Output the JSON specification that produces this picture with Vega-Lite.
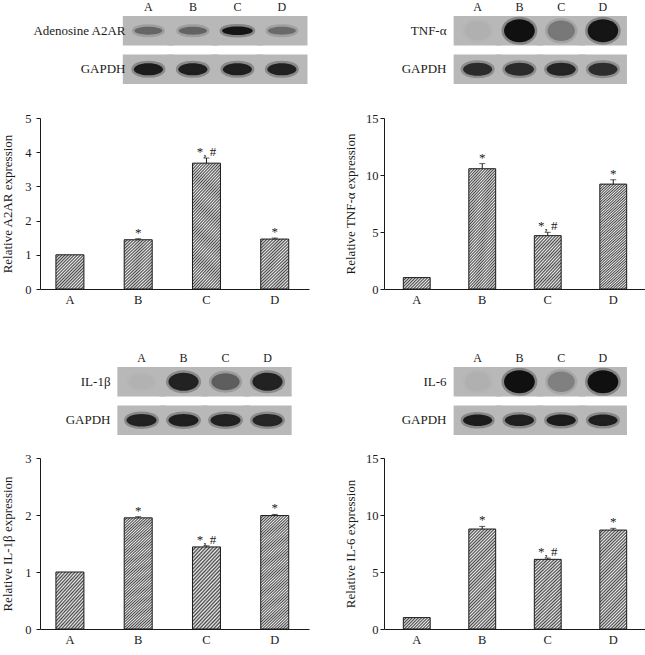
{
  "$schema": "https://vega.github.io/schema/vega-lite/v6.json",
  "padding": {"left": 1, "top": 0, "right": 0, "bottom": 0},
  "autosize": {"type": "pad"},
  "columns": 2,
  "bounds": "flush",
  "align": "each",
  "spacing": {"row": 23, "column": 75},
  "datasets": {
    "blotTL": [
      {"lane": "A", "row": "Adenosine A2AR", "intensity": 0.45},
      {"lane": "B", "row": "Adenosine A2AR", "intensity": 0.47},
      {"lane": "C", "row": "Adenosine A2AR", "intensity": 0.97},
      {"lane": "D", "row": "Adenosine A2AR", "intensity": 0.43},
      {"lane": "A", "row": "GAPDH", "intensity": 0.92},
      {"lane": "B", "row": "GAPDH", "intensity": 0.9},
      {"lane": "C", "row": "GAPDH", "intensity": 0.9},
      {"lane": "D", "row": "GAPDH", "intensity": 0.88}
    ],
    "blotTR": [
      {"lane": "A", "row": "TNF-α", "intensity": 0.04},
      {"lane": "B", "row": "TNF-α", "intensity": 1.0},
      {"lane": "C", "row": "TNF-α", "intensity": 0.35},
      {"lane": "D", "row": "TNF-α", "intensity": 0.97},
      {"lane": "A", "row": "GAPDH", "intensity": 0.82},
      {"lane": "B", "row": "GAPDH", "intensity": 0.82},
      {"lane": "C", "row": "GAPDH", "intensity": 0.86},
      {"lane": "D", "row": "GAPDH", "intensity": 0.8}
    ],
    "blotBL": [
      {"lane": "A", "row": "IL-1β", "intensity": 0.03},
      {"lane": "B", "row": "IL-1β", "intensity": 0.88},
      {"lane": "C", "row": "IL-1β", "intensity": 0.5},
      {"lane": "D", "row": "IL-1β", "intensity": 0.88},
      {"lane": "A", "row": "GAPDH", "intensity": 0.88},
      {"lane": "B", "row": "GAPDH", "intensity": 0.9},
      {"lane": "C", "row": "GAPDH", "intensity": 0.88},
      {"lane": "D", "row": "GAPDH", "intensity": 0.85}
    ],
    "blotBR": [
      {"lane": "A", "row": "IL-6", "intensity": 0.04},
      {"lane": "B", "row": "IL-6", "intensity": 1.0},
      {"lane": "C", "row": "IL-6", "intensity": 0.3},
      {"lane": "D", "row": "IL-6", "intensity": 1.0},
      {"lane": "A", "row": "GAPDH", "intensity": 0.92},
      {"lane": "B", "row": "GAPDH", "intensity": 0.9},
      {"lane": "C", "row": "GAPDH", "intensity": 0.92},
      {"lane": "D", "row": "GAPDH", "intensity": 0.9}
    ],
    "barsTL": [
      {"lane": "A", "value": 1.0, "upper": 1.0, "sig": ""},
      {"lane": "B", "value": 1.44, "upper": 1.47, "sig": "*"},
      {"lane": "C", "value": 3.68, "upper": 3.83, "sig": "*, #"},
      {"lane": "D", "value": 1.46, "upper": 1.49, "sig": "*"}
    ],
    "barsTR": [
      {"lane": "A", "value": 1.0, "upper": 1.0, "sig": ""},
      {"lane": "B", "value": 10.55, "upper": 11.0, "sig": "*"},
      {"lane": "C", "value": 4.68, "upper": 4.97, "sig": "*, #"},
      {"lane": "D", "value": 9.2, "upper": 9.58, "sig": "*"}
    ],
    "barsBL": [
      {"lane": "A", "value": 1.0, "upper": 1.0, "sig": ""},
      {"lane": "B", "value": 1.95, "upper": 1.97, "sig": "*"},
      {"lane": "C", "value": 1.44, "upper": 1.46, "sig": "*, #"},
      {"lane": "D", "value": 1.99, "upper": 2.01, "sig": "*"}
    ],
    "barsBR": [
      {"lane": "A", "value": 1.0, "upper": 1.0, "sig": ""},
      {"lane": "B", "value": 8.77, "upper": 9.0, "sig": "*"},
      {"lane": "C", "value": 6.11, "upper": 6.22, "sig": "*, #"},
      {"lane": "D", "value": 8.68, "upper": 8.83, "sig": "*"}
    ]
  },
  "concat": [
    {
      "width": 267, "height": 79,
      "data": {"name": "blotTL"},
      "encoding": {
        "x": {"field": "lane", "type": "nominal", "scale": {"paddingInner": 0, "paddingOuter": 1.184, "align": 0.968},
              "axis": {"orient": "top", "domain": false, "ticks": false, "labelPadding": 3, "labelAngle": 0, "title": null, "labelFontSize": 12}},
        "y": {"field": "row", "type": "nominal", "sort": null, "scale": {"paddingInner": 0.235, "paddingOuter": 0.143, "align": 0},
              "axis": {"domain": false, "ticks": false, "labelPadding": 8, "offset": -93, "title": null, "labelFontSize": 13}}
      },
      "layer": [
        {"mark": {"type": "rect", "color": "#b8b8b8", "width": {"band": 1.15}}},
        {"transform": [{"filter": "datum.row != 'GAPDH'"}],
         "mark": {"type": "point", "filled": true, "shape": "M-1,0A1,0.28,0,1,0,1,0A1,0.28,0,1,0,-1,0Z", "strokeWidth": 5, "strokeOpacity": 0.3, "opacity": 1},
         "encoding": {
           "color": {"field": "intensity", "type": "quantitative", "scale": {"domain": [0, 1], "range": ["#b8b8b8", "#101010"]}, "legend": null},
           "stroke": {"field": "intensity", "type": "quantitative", "scale": {"domain": [0, 1], "range": ["#b8b8b8", "#101010"]}, "legend": null},
           "size": {"field": "intensity", "type": "quantitative", "scale": {"domain": [0, 1], "range": [650, 950]}, "legend": null}}},
        {"transform": [{"filter": "datum.row == 'GAPDH'"}],
         "mark": {"type": "point", "filled": true, "shape": "M-1,0A1,0.42,0,1,0,1,0A1,0.42,0,1,0,-1,0Z", "size": 850, "strokeWidth": 5, "strokeOpacity": 0.3, "opacity": 1},
         "encoding": {
           "color": {"field": "intensity", "type": "quantitative", "legend": null},
           "stroke": {"field": "intensity", "type": "quantitative", "legend": null}}}
      ]
    },
    {
      "width": 243, "height": 79,
      "data": {"name": "blotTR"},
      "encoding": {
        "x": {"field": "lane", "type": "nominal", "scale": {"paddingInner": 0, "paddingOuter": 0.9095, "align": 0.958},
              "axis": {"orient": "top", "domain": false, "ticks": false, "labelPadding": 3, "labelAngle": 0, "title": null, "labelFontSize": 12}},
        "y": {"field": "row", "type": "nominal", "sort": null, "scale": {"paddingInner": 0.235, "paddingOuter": 0.143, "align": 0},
              "axis": {"domain": false, "ticks": false, "labelPadding": 8, "offset": -70, "title": null, "labelFontSize": 13}}
      },
      "layer": [
        {"mark": {"type": "rect", "color": "#b8b8b8", "width": {"band": 1.15}}},
        {"transform": [{"filter": "datum.row != 'GAPDH'"}],
         "mark": {"type": "point", "filled": true, "shape": "M-1,0A1,0.75,0,1,0,1,0A1,0.75,0,1,0,-1,0Z", "strokeWidth": 5, "strokeOpacity": 0.3, "opacity": 1},
         "encoding": {
           "color": {"field": "intensity", "type": "quantitative", "scale": {"domain": [0, 1], "range": ["#b8b8b8", "#101010"]}, "legend": null},
           "stroke": {"field": "intensity", "type": "quantitative", "scale": {"domain": [0, 1], "range": ["#b8b8b8", "#101010"]}, "legend": null},
           "size": {"field": "intensity", "type": "quantitative", "scale": {"domain": [0, 1], "range": [500, 680]}, "legend": null}}},
        {"transform": [{"filter": "datum.row == 'GAPDH'"}],
         "mark": {"type": "point", "filled": true, "shape": "M-1,0A1,0.45,0,1,0,1,0A1,0.45,0,1,0,-1,0Z", "size": 850, "strokeWidth": 5, "strokeOpacity": 0.3, "opacity": 1},
         "encoding": {
           "color": {"field": "intensity", "type": "quantitative", "legend": null},
           "stroke": {"field": "intensity", "type": "quantitative", "legend": null}}}
      ]
    },
    {
      "width": 269, "height": 171,
      "data": {"name": "barsTL"},
      "encoding": {
        "x": {"field": "lane", "type": "nominal", "scale": {"paddingInner": 0.59, "paddingOuter": 0.265, "align": 0.44},
              "axis": {"title": null, "labelAngle": 0, "ticks": false, "labelPadding": 4}},
        "y": {"field": "value", "type": "quantitative", "scale": {"domain": [0, 5], "nice": false},
              "axis": {"values": [0, 1, 2, 3, 4, 5], "format": "d", "title": "Relative A2AR expression", "tickSize": 4, "labelPadding": 5, "titlePadding": 10}}
      },
      "layer": [
        {"transform": [{"filter": {"field": "lane", "equal": "A"}}],
         "mark": {"type": "bar", "style": "h2", "stroke": "#1a1a1a", "strokeWidth": 1}},
        {"transform": [{"filter": {"field": "lane", "oneOf": ["B", "D"]}}],
         "mark": {"type": "bar", "style": "h3", "stroke": "#1a1a1a", "strokeWidth": 1}},
        {"transform": [{"filter": {"field": "lane", "equal": "C"}}],
         "mark": {"type": "bar", "style": "h6", "stroke": "#1a1a1a", "strokeWidth": 1}},
        {"transform": [{"filter": "datum.upper > datum.value"}],
         "mark": {"type": "rule", "color": "#1a1a1a", "strokeWidth": 1},
         "encoding": {"y2": {"field": "upper"}}},
        {"transform": [{"filter": "datum.upper > datum.value"}],
         "mark": {"type": "tick", "color": "#1a1a1a", "size": 6, "thickness": 1},
         "encoding": {"y": {"field": "upper", "type": "quantitative", "title": "Relative A2AR expression"}}},
        {"mark": {"type": "text", "baseline": "alphabetic", "dy": -2, "fontSize": 13, "color": "#1a1a1a"},
         "encoding": {"y": {"field": "upper", "type": "quantitative", "title": "Relative A2AR expression"}, "text": {"field": "sig"}}}
      ]
    },
    {
      "width": 262, "height": 171,
      "data": {"name": "barsTR"},
      "encoding": {
        "x": {"field": "lane", "type": "nominal", "scale": {"paddingInner": 0.59, "paddingOuter": 0.295, "align": 0.5},
              "axis": {"title": null, "labelAngle": 0, "ticks": false, "labelPadding": 4}},
        "y": {"field": "value", "type": "quantitative", "scale": {"domain": [0, 15], "nice": false},
              "axis": {"values": [0, 5, 10, 15], "format": "d", "title": "Relative TNF-α expression", "tickSize": 4, "labelPadding": 2, "titlePadding": 8}}
      },
      "layer": [
        {"transform": [{"filter": {"field": "lane", "equal": "A"}}],
         "mark": {"type": "bar", "style": "h1", "stroke": "#1a1a1a", "strokeWidth": 1}},
        {"transform": [{"filter": {"field": "lane", "oneOf": ["B", "D"]}}],
         "mark": {"type": "bar", "style": "h6", "stroke": "#1a1a1a", "strokeWidth": 1}},
        {"transform": [{"filter": {"field": "lane", "equal": "C"}}],
         "mark": {"type": "bar", "style": "h3", "stroke": "#1a1a1a", "strokeWidth": 1}},
        {"transform": [{"filter": "datum.upper > datum.value"}],
         "mark": {"type": "rule", "color": "#1a1a1a", "strokeWidth": 1},
         "encoding": {"y2": {"field": "upper"}}},
        {"transform": [{"filter": "datum.upper > datum.value"}],
         "mark": {"type": "tick", "color": "#1a1a1a", "size": 6, "thickness": 1},
         "encoding": {"y": {"field": "upper", "type": "quantitative", "title": "Relative TNF-α expression"}}},
        {"mark": {"type": "text", "baseline": "alphabetic", "dy": -2, "fontSize": 13, "color": "#1a1a1a"},
         "encoding": {"y": {"field": "upper", "type": "quantitative", "title": "Relative TNF-α expression"}, "text": {"field": "sig"}}}
      ]
    },
    {
      "width": 252, "height": 123,
      "data": {"name": "blotBL"},
      "encoding": {
        "x": {"field": "lane", "type": "nominal", "scale": {"paddingInner": 0, "paddingOuter": 1.0104, "align": 0.9586},
              "axis": {"orient": "top", "domain": false, "ticks": false, "labelPadding": 3, "offset": -55, "labelAngle": 0, "title": null, "labelFontSize": 12}},
        "y": {"field": "row", "type": "nominal", "sort": null, "scale": {"paddingInner": 0.235, "paddingOuter": 0.714, "align": 1},
              "axis": {"domain": false, "ticks": false, "labelPadding": 8, "offset": -78, "title": null, "labelFontSize": 13}}
      },
      "layer": [
        {"mark": {"type": "rect", "color": "#b8b8b8", "width": {"band": 1.15}}},
        {"transform": [{"filter": "datum.row != 'GAPDH'"}],
         "mark": {"type": "point", "filled": true, "shape": "M-1,0A1,0.6,0,1,0,1,0A1,0.6,0,1,0,-1,0Z", "strokeWidth": 5, "strokeOpacity": 0.3, "opacity": 1},
         "encoding": {
           "color": {"field": "intensity", "type": "quantitative", "scale": {"domain": [0, 1], "range": ["#b8b8b8", "#101010"]}, "legend": null},
           "stroke": {"field": "intensity", "type": "quantitative", "scale": {"domain": [0, 1], "range": ["#b8b8b8", "#101010"]}, "legend": null},
           "size": {"field": "intensity", "type": "quantitative", "scale": {"domain": [0, 1], "range": [550, 720]}, "legend": null}}},
        {"transform": [{"filter": "datum.row == 'GAPDH'"}],
         "mark": {"type": "point", "filled": true, "shape": "M-1,0A1,0.42,0,1,0,1,0A1,0.42,0,1,0,-1,0Z", "size": 900, "strokeWidth": 5, "strokeOpacity": 0.3, "opacity": 1},
         "encoding": {
           "color": {"field": "intensity", "type": "quantitative", "legend": null},
           "stroke": {"field": "intensity", "type": "quantitative", "legend": null}}}
      ]
    },
    {
      "width": 243, "height": 123,
      "data": {"name": "blotBR"},
      "encoding": {
        "x": {"field": "lane", "type": "nominal", "scale": {"paddingInner": 0, "paddingOuter": 0.9095, "align": 0.958},
              "axis": {"orient": "top", "domain": false, "ticks": false, "labelPadding": 3, "offset": -55, "labelAngle": 0, "title": null, "labelFontSize": 12}},
        "y": {"field": "row", "type": "nominal", "sort": null, "scale": {"paddingInner": 0.235, "paddingOuter": 0.714, "align": 1},
              "axis": {"domain": false, "ticks": false, "labelPadding": 8, "offset": -70, "title": null, "labelFontSize": 13}}
      },
      "layer": [
        {"mark": {"type": "rect", "color": "#b8b8b8", "width": {"band": 1.15}}},
        {"transform": [{"filter": "datum.row != 'GAPDH'"}],
         "mark": {"type": "point", "filled": true, "shape": "M-1,0A1,0.75,0,1,0,1,0A1,0.75,0,1,0,-1,0Z", "strokeWidth": 5, "strokeOpacity": 0.3, "opacity": 1},
         "encoding": {
           "color": {"field": "intensity", "type": "quantitative", "scale": {"domain": [0, 1], "range": ["#b8b8b8", "#101010"]}, "legend": null},
           "stroke": {"field": "intensity", "type": "quantitative", "scale": {"domain": [0, 1], "range": ["#b8b8b8", "#101010"]}, "legend": null},
           "size": {"field": "intensity", "type": "quantitative", "scale": {"domain": [0, 1], "range": [500, 660]}, "legend": null}}},
        {"transform": [{"filter": "datum.row == 'GAPDH'"}],
         "mark": {"type": "point", "filled": true, "shape": "M-1,0A1,0.4,0,1,0,1,0A1,0.4,0,1,0,-1,0Z", "size": 850, "strokeWidth": 5, "strokeOpacity": 0.3, "opacity": 1},
         "encoding": {
           "color": {"field": "intensity", "type": "quantitative", "legend": null},
           "stroke": {"field": "intensity", "type": "quantitative", "legend": null}}}
      ]
    },
    {
      "width": 269, "height": 171,
      "data": {"name": "barsBL"},
      "encoding": {
        "x": {"field": "lane", "type": "nominal", "scale": {"paddingInner": 0.59, "paddingOuter": 0.265, "align": 0.44},
              "axis": {"title": null, "labelAngle": 0, "ticks": false, "labelPadding": 4}},
        "y": {"field": "value", "type": "quantitative", "scale": {"domain": [0, 3], "nice": false},
              "axis": {"values": [0, 1, 2, 3], "format": "d", "title": "Relative IL-1β expression", "tickSize": 4, "labelPadding": 5, "titlePadding": 10}}
      },
      "layer": [
        {"transform": [{"filter": {"field": "lane", "equal": "A"}}],
         "mark": {"type": "bar", "style": "h3", "stroke": "#1a1a1a", "strokeWidth": 1}},
        {"transform": [{"filter": {"field": "lane", "oneOf": ["B", "D"]}}],
         "mark": {"type": "bar", "style": "h6", "stroke": "#1a1a1a", "strokeWidth": 1}},
        {"transform": [{"filter": {"field": "lane", "equal": "C"}}],
         "mark": {"type": "bar", "style": "h4", "stroke": "#1a1a1a", "strokeWidth": 1}},
        {"transform": [{"filter": "datum.upper > datum.value"}],
         "mark": {"type": "rule", "color": "#1a1a1a", "strokeWidth": 1},
         "encoding": {"y2": {"field": "upper"}}},
        {"transform": [{"filter": "datum.upper > datum.value"}],
         "mark": {"type": "tick", "color": "#1a1a1a", "size": 6, "thickness": 1},
         "encoding": {"y": {"field": "upper", "type": "quantitative", "title": "Relative IL-1β expression"}}},
        {"mark": {"type": "text", "baseline": "alphabetic", "dy": -2, "fontSize": 13, "color": "#1a1a1a"},
         "encoding": {"y": {"field": "upper", "type": "quantitative", "title": "Relative IL-1β expression"}, "text": {"field": "sig"}}}
      ]
    },
    {
      "width": 262, "height": 171,
      "data": {"name": "barsBR"},
      "encoding": {
        "x": {"field": "lane", "type": "nominal", "scale": {"paddingInner": 0.59, "paddingOuter": 0.295, "align": 0.5},
              "axis": {"title": null, "labelAngle": 0, "ticks": false, "labelPadding": 4}},
        "y": {"field": "value", "type": "quantitative", "scale": {"domain": [0, 15], "nice": false},
              "axis": {"values": [0, 5, 10, 15], "format": "d", "title": "Relative IL-6 expression", "tickSize": 4, "labelPadding": 2, "titlePadding": 8}}
      },
      "layer": [
        {"transform": [{"filter": {"field": "lane", "equal": "A"}}],
         "mark": {"type": "bar", "style": "h1", "stroke": "#1a1a1a", "strokeWidth": 1}},
        {"transform": [{"filter": {"field": "lane", "oneOf": ["B", "D"]}}],
         "mark": {"type": "bar", "style": "h5", "stroke": "#1a1a1a", "strokeWidth": 1}},
        {"transform": [{"filter": {"field": "lane", "equal": "C"}}],
         "mark": {"type": "bar", "style": "h4", "stroke": "#1a1a1a", "strokeWidth": 1}},
        {"transform": [{"filter": "datum.upper > datum.value"}],
         "mark": {"type": "rule", "color": "#1a1a1a", "strokeWidth": 1},
         "encoding": {"y2": {"field": "upper"}}},
        {"transform": [{"filter": "datum.upper > datum.value"}],
         "mark": {"type": "tick", "color": "#1a1a1a", "size": 6, "thickness": 1},
         "encoding": {"y": {"field": "upper", "type": "quantitative", "title": "Relative IL-6 expression"}}},
        {"mark": {"type": "text", "baseline": "alphabetic", "dy": -2, "fontSize": 13, "color": "#1a1a1a"},
         "encoding": {"y": {"field": "upper", "type": "quantitative", "title": "Relative IL-6 expression"}, "text": {"field": "sig"}}}
      ]
    }
  ],
  "config": {
    "font": "Liberation Serif",
    "view": {"stroke": null},
    "axis": {
      "labelFont": "Liberation Serif", "titleFont": "Liberation Serif",
      "labelColor": "#1a1a1a", "titleColor": "#1a1a1a", "titleFontWeight": "normal",
      "labelFontSize": 12.5, "titleFontSize": 13, "labelOverlap": false,
      "domainColor": "#1a1a1a", "tickColor": "#1a1a1a", "grid": false
    },
    "text": {"font": "Liberation Serif"},
    "style": {
      "h1": {"color": {"gradient": "linear", "x1": 0, "y1": 0, "x2": 1.207, "y2": 0.5096, "stops": [
        {"offset": 0, "color": "#444"}, {"offset": 0.04, "color": "#eee"}, {"offset": 0.08, "color": "#444"}, {"offset": 0.12, "color": "#eee"},
        {"offset": 0.16, "color": "#444"}, {"offset": 0.2, "color": "#eee"}, {"offset": 0.24, "color": "#444"}, {"offset": 0.28, "color": "#eee"},
        {"offset": 0.32, "color": "#444"}, {"offset": 0.36, "color": "#eee"}, {"offset": 0.4, "color": "#444"}, {"offset": 0.44, "color": "#eee"},
        {"offset": 0.48, "color": "#444"}, {"offset": 0.52, "color": "#eee"}, {"offset": 0.56, "color": "#444"}, {"offset": 0.6, "color": "#eee"},
        {"offset": 0.64, "color": "#444"}, {"offset": 0.68, "color": "#eee"}, {"offset": 0.72, "color": "#444"}, {"offset": 0.76, "color": "#eee"},
        {"offset": 0.8, "color": "#444"}, {"offset": 0.84, "color": "#eee"}, {"offset": 0.88, "color": "#444"}, {"offset": 0.92, "color": "#eee"},
        {"offset": 0.96, "color": "#444"}, {"offset": 1, "color": "#eee"}]}},
      "h2": {"color": {"gradient": "linear", "x1": 0, "y1": 0, "x2": 0.8948, "y2": 1.0866, "stops": [
        {"offset": 0, "color": "#444"}, {"offset": 0.025, "color": "#eee"}, {"offset": 0.05, "color": "#444"}, {"offset": 0.075, "color": "#eee"},
        {"offset": 0.1, "color": "#444"}, {"offset": 0.125, "color": "#eee"}, {"offset": 0.15, "color": "#444"}, {"offset": 0.175, "color": "#eee"},
        {"offset": 0.2, "color": "#444"}, {"offset": 0.225, "color": "#eee"}, {"offset": 0.25, "color": "#444"}, {"offset": 0.275, "color": "#eee"},
        {"offset": 0.3, "color": "#444"}, {"offset": 0.325, "color": "#eee"}, {"offset": 0.35, "color": "#444"}, {"offset": 0.375, "color": "#eee"},
        {"offset": 0.4, "color": "#444"}, {"offset": 0.425, "color": "#eee"}, {"offset": 0.45, "color": "#444"}, {"offset": 0.475, "color": "#eee"},
        {"offset": 0.5, "color": "#444"}, {"offset": 0.525, "color": "#eee"}, {"offset": 0.55, "color": "#444"}, {"offset": 0.575, "color": "#eee"},
        {"offset": 0.6, "color": "#444"}, {"offset": 0.625, "color": "#eee"}, {"offset": 0.65, "color": "#444"}, {"offset": 0.675, "color": "#eee"},
        {"offset": 0.7, "color": "#444"}, {"offset": 0.725, "color": "#eee"}, {"offset": 0.75, "color": "#444"}, {"offset": 0.775, "color": "#eee"},
        {"offset": 0.8, "color": "#444"}, {"offset": 0.825, "color": "#eee"}, {"offset": 0.85, "color": "#444"}, {"offset": 0.875, "color": "#eee"},
        {"offset": 0.9, "color": "#444"}, {"offset": 0.925, "color": "#eee"}, {"offset": 0.95, "color": "#444"}, {"offset": 0.975, "color": "#eee"},
        {"offset": 1, "color": "#444"}]}},
      "h3": {"color": {"gradient": "linear", "x1": 0, "y1": 0, "x2": 0.6422, "y2": 1.1927, "stops": [
        {"offset": 0, "color": "#444"}, {"offset": 0.02, "color": "#eee"}, {"offset": 0.04, "color": "#444"}, {"offset": 0.06, "color": "#eee"},
        {"offset": 0.08, "color": "#444"}, {"offset": 0.1, "color": "#eee"}, {"offset": 0.12, "color": "#444"}, {"offset": 0.14, "color": "#eee"},
        {"offset": 0.16, "color": "#444"}, {"offset": 0.18, "color": "#eee"}, {"offset": 0.2, "color": "#444"}, {"offset": 0.22, "color": "#eee"},
        {"offset": 0.24, "color": "#444"}, {"offset": 0.26, "color": "#eee"}, {"offset": 0.28, "color": "#444"}, {"offset": 0.3, "color": "#eee"},
        {"offset": 0.32, "color": "#444"}, {"offset": 0.34, "color": "#eee"}, {"offset": 0.36, "color": "#444"}, {"offset": 0.38, "color": "#eee"},
        {"offset": 0.4, "color": "#444"}, {"offset": 0.42, "color": "#eee"}, {"offset": 0.44, "color": "#444"}, {"offset": 0.46, "color": "#eee"},
        {"offset": 0.48, "color": "#444"}, {"offset": 0.5, "color": "#eee"}, {"offset": 0.52, "color": "#444"}, {"offset": 0.54, "color": "#eee"},
        {"offset": 0.56, "color": "#444"}, {"offset": 0.58, "color": "#eee"}, {"offset": 0.6, "color": "#444"}, {"offset": 0.62, "color": "#eee"},
        {"offset": 0.64, "color": "#444"}, {"offset": 0.66, "color": "#eee"}, {"offset": 0.68, "color": "#444"}, {"offset": 0.7, "color": "#eee"},
        {"offset": 0.72, "color": "#444"}, {"offset": 0.74, "color": "#eee"}, {"offset": 0.76, "color": "#444"}, {"offset": 0.78, "color": "#eee"},
        {"offset": 0.8, "color": "#444"}, {"offset": 0.82, "color": "#eee"}, {"offset": 0.84, "color": "#444"}, {"offset": 0.86, "color": "#eee"},
        {"offset": 0.88, "color": "#444"}, {"offset": 0.9, "color": "#eee"}, {"offset": 0.92, "color": "#444"}, {"offset": 0.94, "color": "#eee"},
        {"offset": 0.96, "color": "#444"}, {"offset": 0.98, "color": "#eee"}, {"offset": 1, "color": "#444"}]}},
      "h4": {"color": {"gradient": "linear", "x1": 0, "y1": 0, "x2": 0.4357, "y2": 1.2042, "stops": [
        {"offset": 0, "color": "#444"}, {"offset": 0.0167, "color": "#eee"}, {"offset": 0.0333, "color": "#444"}, {"offset": 0.05, "color": "#eee"},
        {"offset": 0.0667, "color": "#444"}, {"offset": 0.0833, "color": "#eee"}, {"offset": 0.1, "color": "#444"}, {"offset": 0.1167, "color": "#eee"},
        {"offset": 0.1333, "color": "#444"}, {"offset": 0.15, "color": "#eee"}, {"offset": 0.1667, "color": "#444"}, {"offset": 0.1833, "color": "#eee"},
        {"offset": 0.2, "color": "#444"}, {"offset": 0.2167, "color": "#eee"}, {"offset": 0.2333, "color": "#444"}, {"offset": 0.25, "color": "#eee"},
        {"offset": 0.2667, "color": "#444"}, {"offset": 0.2833, "color": "#eee"}, {"offset": 0.3, "color": "#444"}, {"offset": 0.3167, "color": "#eee"},
        {"offset": 0.3333, "color": "#444"}, {"offset": 0.35, "color": "#eee"}, {"offset": 0.3667, "color": "#444"}, {"offset": 0.3833, "color": "#eee"},
        {"offset": 0.4, "color": "#444"}, {"offset": 0.4167, "color": "#eee"}, {"offset": 0.4333, "color": "#444"}, {"offset": 0.45, "color": "#eee"},
        {"offset": 0.4667, "color": "#444"}, {"offset": 0.4833, "color": "#eee"}, {"offset": 0.5, "color": "#444"}, {"offset": 0.5167, "color": "#eee"},
        {"offset": 0.5333, "color": "#444"}, {"offset": 0.55, "color": "#eee"}, {"offset": 0.5667, "color": "#444"}, {"offset": 0.5833, "color": "#eee"},
        {"offset": 0.6, "color": "#444"}, {"offset": 0.6167, "color": "#eee"}, {"offset": 0.6333, "color": "#444"}, {"offset": 0.65, "color": "#eee"},
        {"offset": 0.6667, "color": "#444"}, {"offset": 0.6833, "color": "#eee"}, {"offset": 0.7, "color": "#444"}, {"offset": 0.7167, "color": "#eee"},
        {"offset": 0.7333, "color": "#444"}, {"offset": 0.75, "color": "#eee"}, {"offset": 0.7667, "color": "#444"}, {"offset": 0.7833, "color": "#eee"},
        {"offset": 0.8, "color": "#444"}, {"offset": 0.8167, "color": "#eee"}, {"offset": 0.8333, "color": "#444"}, {"offset": 0.85, "color": "#eee"},
        {"offset": 0.8667, "color": "#444"}, {"offset": 0.8833, "color": "#eee"}, {"offset": 0.9, "color": "#444"}, {"offset": 0.9167, "color": "#eee"},
        {"offset": 0.9333, "color": "#444"}, {"offset": 0.95, "color": "#eee"}, {"offset": 0.9667, "color": "#444"}, {"offset": 0.9833, "color": "#eee"},
        {"offset": 1, "color": "#444"}]}},
      "h5": {"color": {"gradient": "linear", "x1": 0, "y1": 0, "x2": 0.3162, "y2": 1.1828, "stops": [
        {"offset": 0, "color": "#444"}, {"offset": 0.0125, "color": "#eee"}, {"offset": 0.025, "color": "#444"}, {"offset": 0.0375, "color": "#eee"},
        {"offset": 0.05, "color": "#444"}, {"offset": 0.0625, "color": "#eee"}, {"offset": 0.075, "color": "#444"}, {"offset": 0.0875, "color": "#eee"},
        {"offset": 0.1, "color": "#444"}, {"offset": 0.1125, "color": "#eee"}, {"offset": 0.125, "color": "#444"}, {"offset": 0.1375, "color": "#eee"},
        {"offset": 0.15, "color": "#444"}, {"offset": 0.1625, "color": "#eee"}, {"offset": 0.175, "color": "#444"}, {"offset": 0.1875, "color": "#eee"},
        {"offset": 0.2, "color": "#444"}, {"offset": 0.2125, "color": "#eee"}, {"offset": 0.225, "color": "#444"}, {"offset": 0.2375, "color": "#eee"},
        {"offset": 0.25, "color": "#444"}, {"offset": 0.2625, "color": "#eee"}, {"offset": 0.275, "color": "#444"}, {"offset": 0.2875, "color": "#eee"},
        {"offset": 0.3, "color": "#444"}, {"offset": 0.3125, "color": "#eee"}, {"offset": 0.325, "color": "#444"}, {"offset": 0.3375, "color": "#eee"},
        {"offset": 0.35, "color": "#444"}, {"offset": 0.3625, "color": "#eee"}, {"offset": 0.375, "color": "#444"}, {"offset": 0.3875, "color": "#eee"},
        {"offset": 0.4, "color": "#444"}, {"offset": 0.4125, "color": "#eee"}, {"offset": 0.425, "color": "#444"}, {"offset": 0.4375, "color": "#eee"},
        {"offset": 0.45, "color": "#444"}, {"offset": 0.4625, "color": "#eee"}, {"offset": 0.475, "color": "#444"}, {"offset": 0.4875, "color": "#eee"},
        {"offset": 0.5, "color": "#444"}, {"offset": 0.5125, "color": "#eee"}, {"offset": 0.525, "color": "#444"}, {"offset": 0.5375, "color": "#eee"},
        {"offset": 0.55, "color": "#444"}, {"offset": 0.5625, "color": "#eee"}, {"offset": 0.575, "color": "#444"}, {"offset": 0.5875, "color": "#eee"},
        {"offset": 0.6, "color": "#444"}, {"offset": 0.6125, "color": "#eee"}, {"offset": 0.625, "color": "#444"}, {"offset": 0.6375, "color": "#eee"},
        {"offset": 0.65, "color": "#444"}, {"offset": 0.6625, "color": "#eee"}, {"offset": 0.675, "color": "#444"}, {"offset": 0.6875, "color": "#eee"},
        {"offset": 0.7, "color": "#444"}, {"offset": 0.7125, "color": "#eee"}, {"offset": 0.725, "color": "#444"}, {"offset": 0.7375, "color": "#eee"},
        {"offset": 0.75, "color": "#444"}, {"offset": 0.7625, "color": "#eee"}, {"offset": 0.775, "color": "#444"}, {"offset": 0.7875, "color": "#eee"},
        {"offset": 0.8, "color": "#444"}, {"offset": 0.8125, "color": "#eee"}, {"offset": 0.825, "color": "#444"}, {"offset": 0.8375, "color": "#eee"},
        {"offset": 0.85, "color": "#444"}, {"offset": 0.8625, "color": "#eee"}, {"offset": 0.875, "color": "#444"}, {"offset": 0.8875, "color": "#eee"},
        {"offset": 0.9, "color": "#444"}, {"offset": 0.9125, "color": "#eee"}, {"offset": 0.925, "color": "#444"}, {"offset": 0.9375, "color": "#eee"},
        {"offset": 0.95, "color": "#444"}, {"offset": 0.9625, "color": "#eee"}, {"offset": 0.975, "color": "#444"}, {"offset": 0.9875, "color": "#eee"},
        {"offset": 1, "color": "#444"}]}},
      "h6": {"color": {"gradient": "linear", "x1": 0, "y1": 0, "x2": 0.2779, "y2": 1.1713, "stops": [
        {"offset": 0, "color": "#444"}, {"offset": 0.01, "color": "#eee"}, {"offset": 0.02, "color": "#444"}, {"offset": 0.03, "color": "#eee"},
        {"offset": 0.04, "color": "#444"}, {"offset": 0.05, "color": "#eee"}, {"offset": 0.06, "color": "#444"}, {"offset": 0.07, "color": "#eee"},
        {"offset": 0.08, "color": "#444"}, {"offset": 0.09, "color": "#eee"}, {"offset": 0.1, "color": "#444"}, {"offset": 0.11, "color": "#eee"},
        {"offset": 0.12, "color": "#444"}, {"offset": 0.13, "color": "#eee"}, {"offset": 0.14, "color": "#444"}, {"offset": 0.15, "color": "#eee"},
        {"offset": 0.16, "color": "#444"}, {"offset": 0.17, "color": "#eee"}, {"offset": 0.18, "color": "#444"}, {"offset": 0.19, "color": "#eee"},
        {"offset": 0.2, "color": "#444"}, {"offset": 0.21, "color": "#eee"}, {"offset": 0.22, "color": "#444"}, {"offset": 0.23, "color": "#eee"},
        {"offset": 0.24, "color": "#444"}, {"offset": 0.25, "color": "#eee"}, {"offset": 0.26, "color": "#444"}, {"offset": 0.27, "color": "#eee"},
        {"offset": 0.28, "color": "#444"}, {"offset": 0.29, "color": "#eee"}, {"offset": 0.3, "color": "#444"}, {"offset": 0.31, "color": "#eee"},
        {"offset": 0.32, "color": "#444"}, {"offset": 0.33, "color": "#eee"}, {"offset": 0.34, "color": "#444"}, {"offset": 0.35, "color": "#eee"},
        {"offset": 0.36, "color": "#444"}, {"offset": 0.37, "color": "#eee"}, {"offset": 0.38, "color": "#444"}, {"offset": 0.39, "color": "#eee"},
        {"offset": 0.4, "color": "#444"}, {"offset": 0.41, "color": "#eee"}, {"offset": 0.42, "color": "#444"}, {"offset": 0.43, "color": "#eee"},
        {"offset": 0.44, "color": "#444"}, {"offset": 0.45, "color": "#eee"}, {"offset": 0.46, "color": "#444"}, {"offset": 0.47, "color": "#eee"},
        {"offset": 0.48, "color": "#444"}, {"offset": 0.49, "color": "#eee"}, {"offset": 0.5, "color": "#444"}, {"offset": 0.51, "color": "#eee"},
        {"offset": 0.52, "color": "#444"}, {"offset": 0.53, "color": "#eee"}, {"offset": 0.54, "color": "#444"}, {"offset": 0.55, "color": "#eee"},
        {"offset": 0.56, "color": "#444"}, {"offset": 0.57, "color": "#eee"}, {"offset": 0.58, "color": "#444"}, {"offset": 0.59, "color": "#eee"},
        {"offset": 0.6, "color": "#444"}, {"offset": 0.61, "color": "#eee"}, {"offset": 0.62, "color": "#444"}, {"offset": 0.63, "color": "#eee"},
        {"offset": 0.64, "color": "#444"}, {"offset": 0.65, "color": "#eee"}, {"offset": 0.66, "color": "#444"}, {"offset": 0.67, "color": "#eee"},
        {"offset": 0.68, "color": "#444"}, {"offset": 0.69, "color": "#eee"}, {"offset": 0.7, "color": "#444"}, {"offset": 0.71, "color": "#eee"},
        {"offset": 0.72, "color": "#444"}, {"offset": 0.73, "color": "#eee"}, {"offset": 0.74, "color": "#444"}, {"offset": 0.75, "color": "#eee"},
        {"offset": 0.76, "color": "#444"}, {"offset": 0.77, "color": "#eee"}, {"offset": 0.78, "color": "#444"}, {"offset": 0.79, "color": "#eee"},
        {"offset": 0.8, "color": "#444"}, {"offset": 0.81, "color": "#eee"}, {"offset": 0.82, "color": "#444"}, {"offset": 0.83, "color": "#eee"},
        {"offset": 0.84, "color": "#444"}, {"offset": 0.85, "color": "#eee"}, {"offset": 0.86, "color": "#444"}, {"offset": 0.87, "color": "#eee"},
        {"offset": 0.88, "color": "#444"}, {"offset": 0.89, "color": "#eee"}, {"offset": 0.9, "color": "#444"}, {"offset": 0.91, "color": "#eee"},
        {"offset": 0.92, "color": "#444"}, {"offset": 0.93, "color": "#eee"}, {"offset": 0.94, "color": "#444"}, {"offset": 0.95, "color": "#eee"},
        {"offset": 0.96, "color": "#444"}, {"offset": 0.97, "color": "#eee"}, {"offset": 0.98, "color": "#444"}, {"offset": 0.99, "color": "#eee"},
        {"offset": 1, "color": "#444"}]}}
    }
  }
}
